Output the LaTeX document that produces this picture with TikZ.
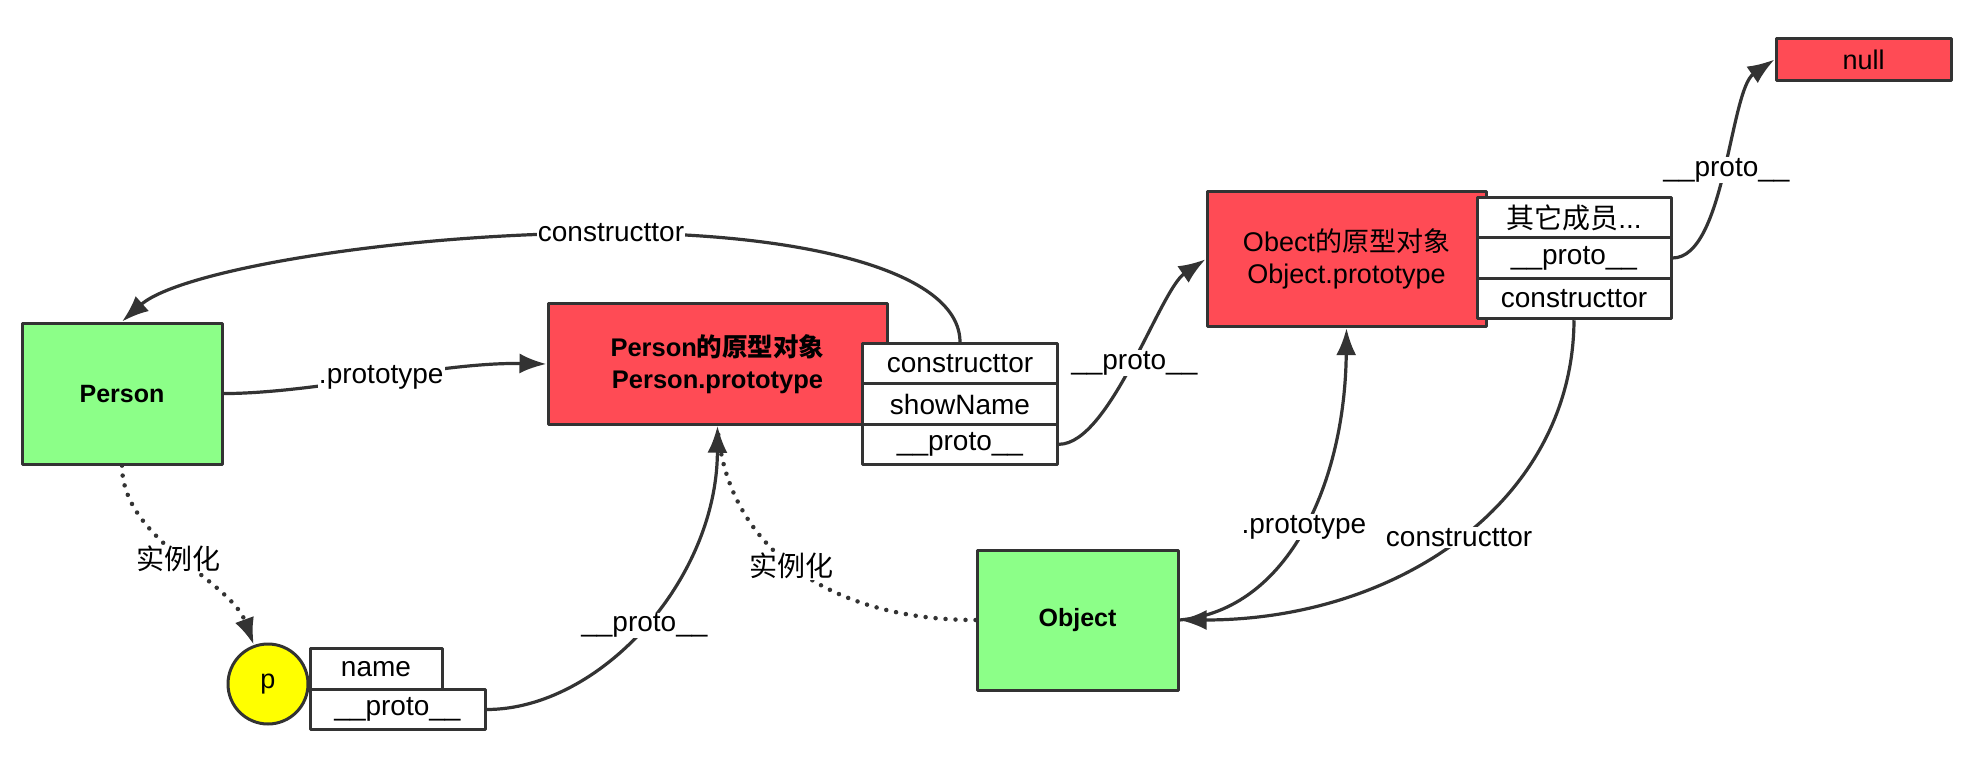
\documentclass[tikz,border=0pt]{standalone}
\usepackage{fontspec}
\setmainfont{Liberation Sans}
\newfontfamily\cjk{Noto Sans CJK SC}
\usetikzlibrary{arrows.meta,shapes.geometric}
\definecolor{boxgreen}{HTML}{8CFF88}
\definecolor{boxred}{HTML}{FF4B55}
\definecolor{boxyellow}{HTML}{FFFF00}
\definecolor{linegray}{HTML}{333333}
\begin{document}
\begin{tikzpicture}[x=1pt, y=-1pt, line join=round, >={Latex[length=27pt,width=20pt]}]

		\tikzset{obj/.style={draw=linegray, line width=3pt, fill=boxgreen, minimum width=200pt, minimum height=141pt, font=\fontsize{25}{30}\selectfont\bfseries},
		protobox/.style={draw=linegray, line width=3pt, fill=boxred, align=center, font=\fontsize{27}{32}\selectfont},
		member/.style={draw=linegray, line width=3pt, fill=white, minimum height=40.5pt, inner sep=0pt, font=\fontsize{28}{30}\selectfont},
		inst/.style={circle, draw=linegray, line width=3pt, fill=boxyellow, minimum size=80pt, inner sep=0pt, font=\fontsize{27}{30}\selectfont},
		lbl/.style={fill=white, inner sep=1pt, font=\fontsize{28}{30}\selectfont},
		link/.style={draw=linegray, line width=3.2pt},
		dots/.style={draw=linegray, line width=4.5pt, dash pattern=on 0pt off 10pt, line cap=round}}

		\useasboundingbox (0,0) rectangle (1976,762);

		% constructors and prototypes
		\node[obj] (person) at (122,393.6) {Person};
		\node[protobox, font=\fontsize{25.5}{32}\selectfont\bfseries, minimum width=339pt, minimum height=120.5pt] (pp) at (717.5,364) {Person{\cjk 的原型对象}\\Person.prototype};
		\node[member, minimum width=195pt] (pcons) at (960,364) {constructtor};
		\node[member, minimum width=195pt] (pshow) at (960,404.2) {showName};
		\node[member, minimum width=195pt] (pproto) at (960,444.3) {\_\_proto\_\_};

		\node[inst] (p) at (268,684) {p};
		\node[member, minimum width=132pt] (pname) at (376,669) {name};
		\node[member, minimum width=175pt] (pinproto) at (397.5,709.5) {\_\_proto\_\_};

		\node[obj, minimum width=201pt, minimum height=140pt] (object) at (1077.5,620) {Object};
		\node[protobox, minimum width=279pt, minimum height=134.6pt] (op) at (1346.5,259.3) {Obect{\cjk 的原型对象}\\Object.prototype};
		\node[member, minimum width=194pt] (oother) at (1574,217.5) {{\cjk 其它成员}...};
		\node[member, minimum width=194pt] (oproto) at (1574,258) {\_\_proto\_\_};
		\node[member, minimum width=194pt] (ocons) at (1574,298.5) {constructtor};
		\node[protobox, minimum width=175pt, minimum height=41.3pt] (null) at (1863.5,59.5) {null};

		% links
		\draw[link,->] (pcons.north) .. controls (960,270) and (800,233) .. (611,233) node[lbl] {constructtor}
		.. controls (400,233) and (180,270) .. (person.north);
		\draw[link,->] (person.east) .. controls (320,393) and (440,362) .. node[lbl, pos=.5] {.prototype} (pp.west);
		\draw[dots,->] (person.south) .. controls (122,540) and (230,580) .. node[lbl, pos=.5] {\cjk 实例化} (p.110);
		\draw[dots] (object.west) .. controls (820,620) and (725,540) .. node[lbl, pos=.5] {\cjk 实例化} (pp.south);
		\draw[link,->] (pinproto.east) .. controls (600,709.5) and (717,580) .. node[lbl, pos=.5] {\_\_proto\_\_} (pp.south);
		\draw[link,->] (pproto.east) .. controls (1110,444) and (1160,290) .. node[lbl, pos=.5] {\_\_proto\_\_} (op.west);
		\draw[link,->] (object.east) .. controls (1290,610) and (1345,480) .. node[lbl, pos=.5] {.prototype} (op.south);
		\draw[link,->] (ocons.south) .. controls (1573,500) and (1400,620) .. node[lbl, pos=.5] {constructtor} (object.east);
		\draw[link,->] (oproto.east) .. controls (1725,258) and (1730,90) .. node[lbl, pos=.5] {\_\_proto\_\_} (null.west);
		\end{tikzpicture}
\end{document}
